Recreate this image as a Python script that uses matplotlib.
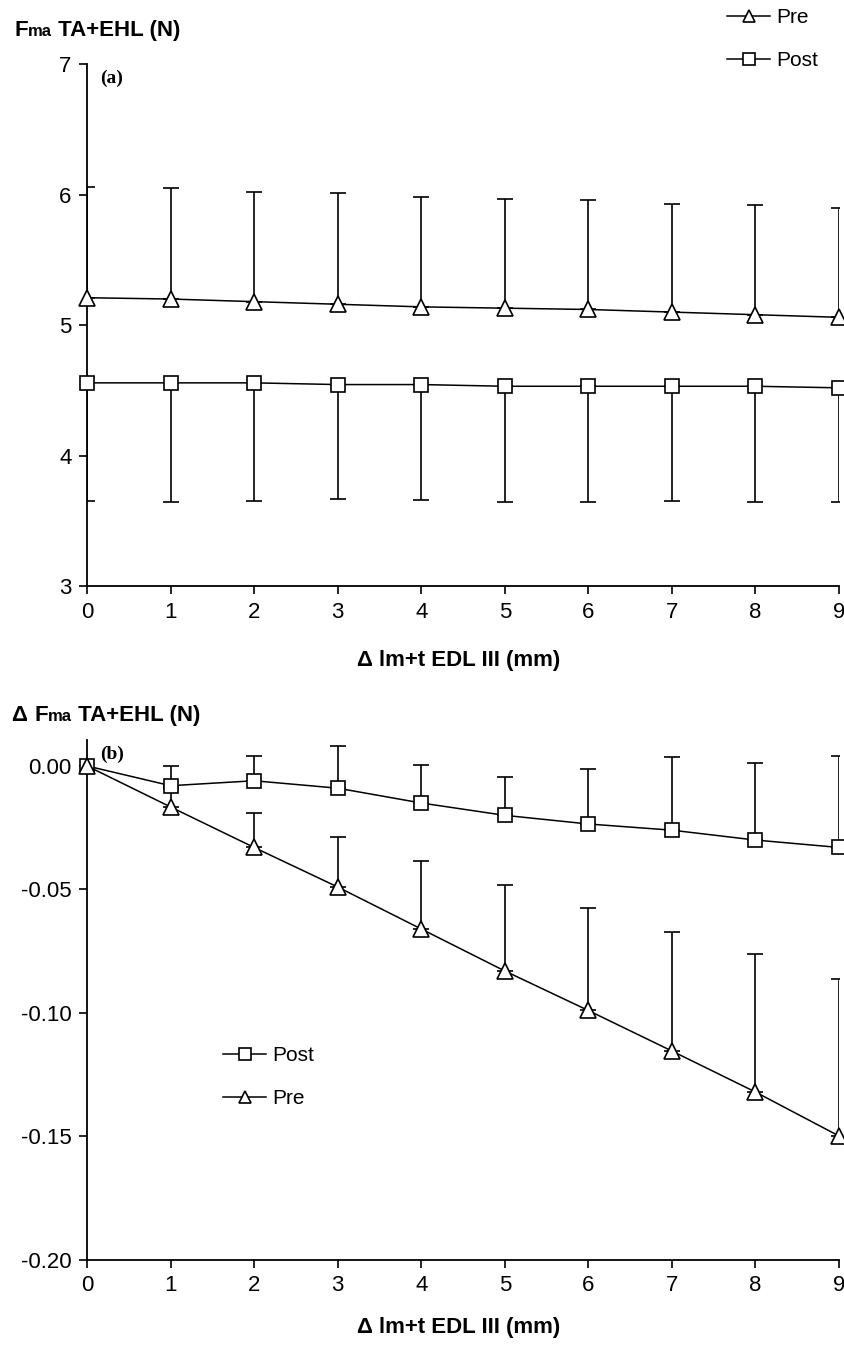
import matplotlib
matplotlib.use("Agg")
import matplotlib.pyplot as plt
import numpy as np

# ---- data ----
x = [0, 1, 2, 3, 4, 5, 6, 7, 8, 9]

# panel (a)
pre_a = [5.21, 5.20, 5.18, 5.16, 5.14, 5.13, 5.12, 5.10, 5.08, 5.06]
pre_a_upper = [6.06, 6.05, 6.02, 6.01, 5.985, 5.965, 5.955, 5.93, 5.92, 5.895]
post_a = [4.558, 4.558, 4.558, 4.545, 4.545, 4.532, 4.532, 4.532, 4.532, 4.52]
post_a_lower = [3.657, 3.647, 3.657, 3.667, 3.66, 3.647, 3.647, 3.657, 3.647, 3.647]

# panel (b)
post_b = [0.0, -0.008, -0.006, -0.009, -0.015, -0.020, -0.0235, -0.026, -0.030, -0.033]
post_b_upper = [0.0, 0.000, 0.004, 0.008, 0.0004, -0.0045, -0.0012, 0.0036, 0.0012, 0.004]
pre_b = [0.0, -0.0166, -0.033, -0.049, -0.066, -0.083, -0.099, -0.1154, -0.132, -0.1498]
pre_b_upper = [0.0, -0.009, -0.019, -0.0287, -0.0384, -0.048, -0.0575, -0.0673, -0.0763, -0.0863]

xticks = [0, 1, 2, 3, 4, 5, 6, 7, 8, 9]
yticks_a = [3, 4, 5, 6, 7]
yticks_b = [0.00, -0.05, -0.10, -0.15, -0.20]
yticklabels_b = ["0.00", "-0.05", "-0.10", "-0.15", "-0.20"]

plt.rcParams['font.family'] = ['Liberation Sans', 'DejaVu Sans']

W, H = 844, 1346
fig = plt.figure(figsize=(W / 100, H / 100), dpi=100)

def fx(px):
    return px / W

def fy(py):
    return 1 - py / H

ax_a = fig.add_axes([fx(87), fy(586.3), fx(839) - fx(87), fy(64) - fy(586.3)])
ax_b = fig.add_axes([fx(87), fy(1260), fx(839) - fx(87), fy(740) - fy(1260)])

tri = dict(marker='^', markersize=11, markerfacecolor='white', markeredgecolor='black',
           markeredgewidth=1.2, color='black', linewidth=1.1, clip_on=False, zorder=4)
sq = dict(marker='s', markersize=9.5, markerfacecolor='white', markeredgecolor='black',
          markeredgewidth=1.2, color='black', linewidth=1.1, clip_on=False, zorder=4)
eb = dict(fmt='none', ecolor='black', elinewidth=1.2, capsize=5.5, capthick=1.2, zorder=2)

def style(ax):
    for s in ['top', 'right']:
        ax.spines[s].set_visible(False)
    for s in ['left', 'bottom']:
        ax.spines[s].set_linewidth(1.3)
    ax.tick_params(axis='both', direction='out', length=6, width=1.2, labelsize=16, pad=5)
    ax.set_xlim(0, 9)
    ax.set_xticks(xticks)
    ax.set_xticklabels([str(v) for v in xticks])

leg_kw = dict(frameon=False, fontsize=15, handlelength=2.05, handletextpad=0.3,
              labelspacing=1.15, borderaxespad=0, markerscale=0.85)

# ---- panel (a) ----
xa = np.array(x)
pa = np.array(pre_a)
qa = np.array(post_a)
ax_a.errorbar(xa, pa, yerr=[np.zeros_like(pa), np.array(pre_a_upper) - pa], **eb)
ax_a.errorbar(xa, qa, yerr=[qa - np.array(post_a_lower), np.zeros_like(qa)], **eb)
l_pre_a, = ax_a.plot(xa, pa, label='Pre', **tri)
l_post_a, = ax_a.plot(xa, qa, label='Post', **sq)
style(ax_a)
ax_a.set_ylim(3, 7)
ax_a.set_yticks(yticks_a)
ax_a.set_yticklabels([str(v) for v in yticks_a])
ax_a.text(0.017, 0.99, '(a)', transform=ax_a.transAxes, fontsize=14, fontweight='bold',
          family='Liberation Serif', va='top', ha='left')
fig.legend(handles=[l_pre_a, l_post_a], loc='upper left', bbox_to_anchor=(fx(719), fy(0)),
           **leg_kw)

# ---- panel (b) ----
pb = np.array(pre_b)
qb = np.array(post_b)
ax_b.errorbar(xa[1:], qb[1:], yerr=[np.zeros(9), (np.array(post_b_upper) - qb)[1:]], **eb)
ax_b.errorbar(xa[1:], pb[1:], yerr=[np.zeros(9), (np.array(pre_b_upper) - pb)[1:]], **eb)
l_post_b, = ax_b.plot(xa, qb, label='Post', **sq)
l_pre_b, = ax_b.plot(xa, pb, label='Pre', **tri)
style(ax_b)
ax_b.set_ylim(-0.20, 0.0105)
ax_b.set_yticks(yticks_b)
ax_b.set_yticklabels(yticklabels_b)
ax_b.text(0.017, 0.99, '(b)', transform=ax_b.transAxes, fontsize=14, fontweight='bold',
          family='Liberation Serif', va='top', ha='left')
ax_b.legend(handles=[l_post_b, l_pre_b], loc='upper left', bbox_to_anchor=(fx(215), fy(1038)),
            bbox_transform=fig.transFigure, **leg_kw)

# ---- axis titles built from pieces ----
fig.canvas.draw()
renderer = fig.canvas.get_renderer()

def pieces(x0, y0, parts):
    xpix = x0
    for s, size in parts:
        t = fig.text(fx(xpix), fy(y0), s, fontsize=size, fontweight='bold', va='baseline', ha='left')
        ext = t.get_window_extent(renderer=renderer)
        xpix += ext.width

pieces(14, 36, [("F", 16), ("ma", 12), (" TA+EHL (N)", 16)])
pieces(12, 721, [("\u0394 ", 16), ("F", 16), ("ma", 12), (" TA+EHL (N)", 16)])
pieces(357, 666, [("\u0394 ", 16), ("lm+t EDL III (mm)", 16)])
pieces(357, 1333, [("\u0394 ", 16), ("lm+t EDL III (mm)", 16)])

fig.savefig("out.png", dpi=100)
